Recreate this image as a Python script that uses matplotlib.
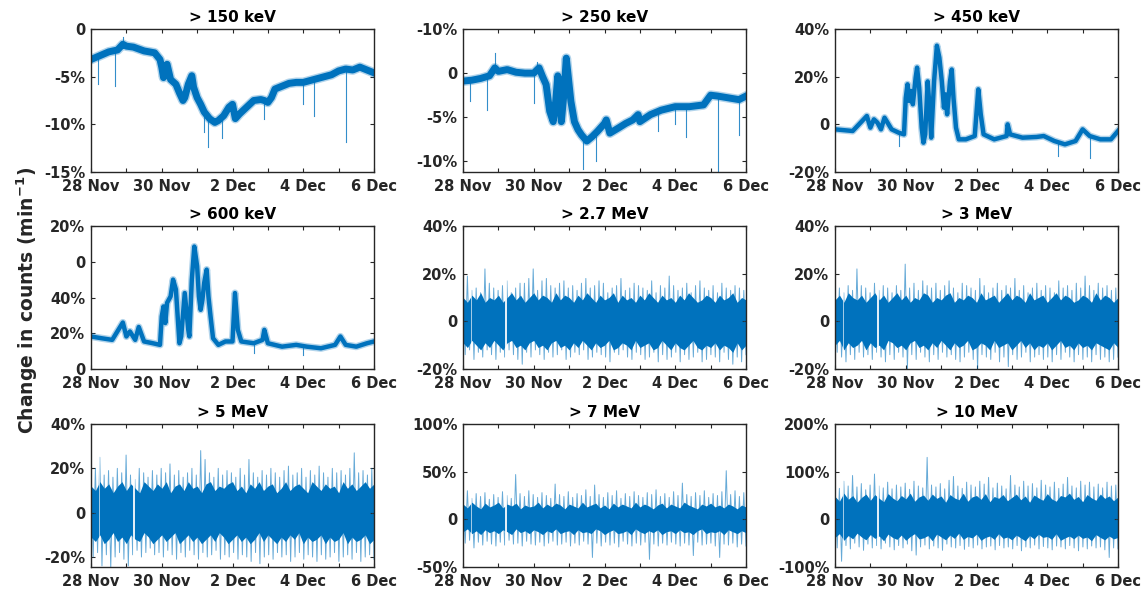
import numpy as np
import matplotlib
matplotlib.use('Agg')
import matplotlib.pyplot as plt

plt.rcParams['font.family'] = ['DejaVu Sans']
plt.rcParams['font.weight'] = 'bold'

BLUE = '#0072BD'
DARK = '#262626'

# time is in days after 28 Nov 00:00
day_ticks = [0, 1, 2, 3, 4, 5, 6, 7, 8]
day_labels = ['28 Nov', '', '30 Nov', '', '2 Dec', '', '4 Dec', '', '6 Dec']

# ---- smooth-ish channels (in %) ----
t150 = [0, 0.25, 0.5, 0.75, 0.9, 1.0, 1.2, 1.5, 1.8, 1.95, 2.0, 2.05, 2.1, 2.15, 2.25,
        2.4, 2.5, 2.6, 2.65, 2.75, 2.85, 2.9, 3.0, 3.1, 3.2, 3.35, 3.5, 3.6, 3.75, 3.9,
        4.0, 4.08, 4.2, 4.4, 4.6, 4.8, 4.9, 5.0, 5.1, 5.2, 5.4, 5.6, 5.8, 6.0, 6.2,
        6.4, 6.6, 6.8, 7.0, 7.2, 7.4, 7.6, 7.8, 8.0]
y150 = [-3.2, -2.8, -2.4, -2.2, -1.6, -1.8, -1.9, -2.3, -2.5, -3.2, -4.0, -5.1, -4.0, -3.7, -5.3,
        -5.8, -6.7, -7.5, -7.2, -5.8, -4.9, -6.1, -7.2, -7.9, -8.7, -9.4, -9.8, -9.6, -9.1, -8.2,
        -7.9, -9.4, -8.9, -8.2, -7.5, -7.4, -7.5, -7.7, -7.2, -6.3, -6.0, -5.7, -5.6, -5.6, -5.4,
        -5.2, -5.0, -4.8, -4.4, -4.2, -4.3, -4.0, -4.3, -4.6]
spk150 = [(0.2, -3.0, -5.8), (0.68, -2.3, -6.0), (0.9, -1.8, -0.8), (3.2, -8.7, -10.8),
          (3.3, -9.2, -12.4), (3.7, -9.2, -11.4), (4.9, -7.5, -9.4), (6.0, -5.6, -7.9),
          (6.3, -5.3, -9.1), (7.2, -4.2, -11.9)]

t250 = [0, 0.25, 0.5, 0.75, 0.9, 1.0, 1.25, 1.5, 1.75, 2.0, 2.15, 2.25, 2.35, 2.45, 2.55,
        2.62, 2.68, 2.78, 2.85, 2.92, 3.05, 3.15, 3.25, 3.35, 3.5, 3.65, 3.8, 4.0, 4.05, 4.15,
        4.4, 4.6, 4.8, 4.95, 5.0, 5.3, 5.6, 6.0, 6.4, 6.8, 7.0, 7.2, 7.5, 7.8, 8.0]
y250 = [-0.9, -0.8, -0.6, -0.3, 0.6, 0.2, 0.4, 0.1, 0.0, 0.0, 0.6, -0.4, -1.3, -4.3, -5.5,
        -3.2, -0.3, -5.5, -2.5, 1.7, -3.2, -5.5, -6.4, -7.0, -7.7, -7.2, -6.6, -5.7, -5.3, -6.8,
        -6.2, -5.7, -5.3, -4.7, -5.5, -4.7, -4.2, -3.8, -3.8, -3.6, -2.5, -2.6, -2.8, -3.0, -2.6]
spk250 = [(0.2, -0.8, -3.2), (0.68, -0.4, -4.2), (0.9, 0.4, 2.3), (2.0, 0.0, -3.4),
          (2.1, 0.3, 1.3), (3.4, -7.2, -10.9), (3.75, -7.0, -10.0), (5.5, -4.3, -6.6),
          (6.0, -3.8, -5.8), (6.3, -3.8, -7.2), (7.2, -2.6, -11.3), (7.8, -3.0, -7.0)]

t450 = [0, 0.5, 0.9, 1.0, 1.1, 1.2, 1.3, 1.4, 1.6, 1.8, 1.95, 2.0, 2.05, 2.1, 2.15,
        2.2, 2.28, 2.32, 2.38, 2.45, 2.5, 2.55, 2.62, 2.68, 2.72, 2.8, 2.88, 2.95, 3.02, 3.08,
        3.12, 3.17, 3.25, 3.3, 3.35, 3.42, 3.5, 3.7, 3.95, 4.05, 4.12, 4.2, 4.5, 4.85, 4.88,
        4.95, 5.3, 5.7, 5.9, 6.2, 6.5, 6.8, 7.0, 7.2, 7.5, 7.8, 8.0]
y450 = [-2.1, -2.8, 3.5, -1.4, 2.1, 0.7, -2.1, 2.8, -2.1, -3.5, -4.2, 11.0, 16.8, 9.8, 14.0,
        8.4, 19.6, 23.8, 15.4, -1.4, -7.7, -4.2, 18.0, 5.6, -5.6, 18.0, 33.0, 28.0, 18.0, 7.0,
        12.6, 4.2, 18.0, 23.0, 11.0, -1.4, -6.3, -6.3, -4.9, 14.7, 4.2, -4.2, -6.3, -4.9, 0.0,
        -4.2, -5.6, -5.3, -4.9, -7.0, -8.4, -7.0, -2.1, -4.9, -6.3, -6.3, -2.8]
spk450 = [(1.8, -3.5, -9.0), (6.3, -7.5, -13.3), (7.2, -5.0, -14.0)]

t600 = [0, 0.3, 0.6, 0.9, 1.0, 1.1, 1.25, 1.35, 1.5, 1.75, 1.95, 2.0, 2.05, 2.1, 2.15,
        2.25, 2.32, 2.4, 2.45, 2.5, 2.55, 2.65, 2.75, 2.78, 2.85, 2.92, 3.0, 3.05, 3.1, 3.15,
        3.2, 3.27, 3.32, 3.38, 3.45, 3.6, 3.8, 4.0, 4.07, 4.15, 4.25, 4.6, 4.85, 4.9, 5.0,
        5.4, 5.8, 6.1, 6.5, 6.9, 7.05, 7.2, 7.5, 7.8, 8.0]
y600 = [18.2, 17.2, 16.3, 26.0, 18.2, 21.0, 16.3, 23.5, 15.4, 14.4, 13.5, 29.4, 35.0, 25.7, 37.0,
        40.6, 50.0, 44.5, 29.4, 14.4, 18.2, 42.5, 21.9, 18.2, 50.0, 68.5, 57.5, 40.6, 33.1, 38.8,
        48.2, 55.6, 40.6, 29.4, 17.2, 13.5, 15.4, 15.4, 42.5, 21.9, 15.4, 14.4, 16.3, 21.9, 14.4,
        12.5, 13.5, 12.5, 11.6, 13.5, 18.2, 13.5, 12.5, 14.4, 15.4]
spk600 = [(4.6, 14.0, 9.0), (6.0, 12.5, 8.0)]

# ---- noisy channels: spike extremes and dense-core edges per 3-hour bin ----
hi27 = [15, 19, 13, 14, 12, 22, 16, 14,
        13, 15, 17, 12, 14, 16, 16, 18,
        22, 13, 17, 18, 15, 14, 16, 17,
        14, 15, 13, 16, 18, 14, 15, 17,
        16, 12, 14, 15, 18, 13, 14, 16,
        15, 14, 13, 17, 12, 15, 14, 19,
        15, 13, 14, 16, 12, 15, 17, 14,
        13, 15, 12, 16, 14, 13, 15, 14,
        13]
lo27 = [-14, -12, -16, -13, -15, -12, -14, -16,
        -13, -15, -12, -14, -16, -18, -13, -15,
        -12, -14, -16, -13, -15, -14, -12, -16,
        -15, -13, -14, -12, -16, -15, -13, -14,
        -15, -17, -13, -14, -12, -15, -16, -13,
        -14, -16, -15, -13, -17, -14, -16, -15,
        -13, -17, -14, -16, -15, -13, -17, -16,
        -14, -15, -17, -13, -16, -18, -15, -17,
        -14]
c27hi = [10, 8, 11, 9, 12, 8, 10, 9,
         11, 8, 10, 12, 9, 11, 8, 10,
         12, 9, 11, 10, 8, 12, 9, 11,
         10, 8, 11, 9, 12, 10, 8, 11,
         9, 10, 12, 8, 11, 9, 10, 8,
         11, 9, 12, 10, 8, 11, 9, 10,
         8, 11, 9, 12, 10, 8, 9, 11,
         10, 8, 11, 9, 10, 12, 8, 10,
         9]
c27lo = [-9, -11, -8, -10, -12, -9, -11, -8,
         -10, -12, -9, -8, -11, -10, -12, -9,
         -8, -11, -10, -12, -9, -8, -11, -10,
         -12, -9, -11, -8, -10, -12, -9, -11,
         -10, -8, -12, -11, -9, -10, -12, -8,
         -11, -10, -9, -12, -11, -8, -10, -12,
         -9, -11, -12, -10, -8, -11, -12, -10,
         -11, -9, -12, -10, -11, -13, -9, -12,
         -10]

hi3 = [17, 14, 12, 15, 13, 22, 15, 14,
       12, 16, 13, 15, 14, 12, 15, 13,
       24, 14, 16, 13, 17, 15, 14, 16,
       13, 15, 17, 14, 12, 16, 15, 14,
       13, 18, 15, 12, 14, 16, 13, 15,
       14, 18, 13, 15, 12, 14, 16, 13,
       15, 14, 12, 17, 14, 15, 13, 16,
       14, 19, 15, 13, 16, 14, 15, 13,
       14]
lo3 = [-13, -15, -17, -14, -16, -13, -15, -14,
       -16, -13, -15, -17, -14, -16, -13, -15,
       -20, -14, -16, -13, -15, -17, -14, -16,
       -13, -15, -14, -16, -17, -15, -13, -16,
       -20, -14, -15, -16, -13, -17, -15, -19,
       -14, -16, -15, -13, -17, -15, -14, -16,
       -15, -17, -14, -16, -13, -15, -17, -14,
       -16, -15, -17, -14, -16, -15, -17, -16,
       -15]
c3hi = [9, 11, 8, 12, 10, 9, 11, 8,
        10, 12, 9, 11, 8, 10, 12, 9,
        11, 8, 10, 9, 12, 11, 8, 10,
        9, 11, 12, 8, 10, 9, 11, 10,
        8, 12, 9, 10, 11, 8, 10, 12,
        9, 11, 10, 8, 12, 9, 10, 11,
        8, 10, 12, 9, 11, 10, 8, 9,
        11, 10, 8, 12, 9, 11, 10, 8,
        10]
c3lo = [-10, -8, -12, -9, -11, -10, -8, -12,
        -9, -11, -10, -12, -8, -9, -11, -10,
        -12, -9, -8, -11, -10, -12, -9, -11,
        -8, -10, -12, -9, -11, -10, -8, -12,
        -11, -9, -10, -12, -8, -11, -10, -9,
        -12, -10, -8, -11, -9, -12, -10, -11,
        -9, -12, -10, -8, -11, -10, -12, -9,
        -11, -10, -12, -9, -10, -11, -12, -9,
        -11]

hi5 = [18, 20, 25, 17, 19, 16, 20, 18,
       26, 17, 15, 20, 18, 16, 19, 17,
       20, 18, 22, 17, 19, 16, 18, 20,
       17, 28, 24, 18, 16, 20, 17, 19,
       18, 16, 20, 17, 24, 18, 16, 19,
       17, 20, 18, 16, 19, 21, 17, 18,
       20, 16, 19, 17, 21, 18, 16, 20,
       18, 19, 17, 20, 27, 18, 19, 17,
       20]
lo5 = [-20, -18, -24, -19, -25, -20, -18, -21,
       -24, -19, -17, -20, -18, -16, -19, -18,
       -20, -17, -19, -21, -18, -20, -17, -19,
       -21, -18, -20, -19, -17, -21, -19, -20,
       -18, -21, -19, -20, -22, -18, -23, -20,
       -19, -21, -18, -20, -19, -22, -20, -18,
       -21, -19, -20, -22, -19, -21, -20, -18,
       -22, -20, -19, -21, -18, -22, -20, -19,
       -21]
c5hi = [12, 10, 14, 11, 13, 9, 12, 14,
        10, 13, 11, 9, 14, 12, 10, 13,
        11, 14, 9, 12, 13, 10, 14, 11,
        12, 9, 13, 14, 10, 12, 11, 13,
        14, 10, 12, 9, 13, 11, 14, 10,
        12, 13, 9, 11, 14, 10, 12, 13,
        11, 9, 14, 12, 10, 13, 11, 12,
        9, 14, 11, 13, 10, 12, 14, 11,
        13]
c5lo = [-11, -13, -10, -14, -12, -9, -13, -11,
        -14, -10, -12, -13, -9, -11, -14, -12,
        -10, -13, -11, -9, -14, -12, -10, -13,
        -11, -14, -12, -10, -13, -9, -11, -14,
        -12, -10, -13, -11, -14, -12, -9, -13,
        -10, -12, -14, -11, -13, -10, -12, -9,
        -14, -11, -13, -12, -10, -14, -11, -13,
        -12, -9, -14, -11, -13, -12, -10, -14,
        -12]

hi7 = [25, 30, 22, 27, 24, 28, 21, 26,
       23, 29, 25, 22, 47, 27, 24, 30,
       26, 23, 28, 25, 22, 37, 26, 24,
       29, 23, 27, 25, 31, 24, 36, 26,
       23, 28, 25, 30, 22, 27, 24, 29,
       25, 23, 28, 26, 31, 24, 27, 23,
       29, 25, 38, 26, 24, 28, 25, 30,
       23, 27, 25, 29, 51, 26, 30, 24,
       28]
lo7 = [-25, -22, -30, -24, -27, -23, -26, -28,
       -24, -27, -22, -26, -25, -28, -23, -26,
       -27, -24, -28, -25, -23, -27, -26, -24,
       -28, -25, -27, -23, -26, -40, -25, -28,
       -24, -27, -25, -29, -23, -26, -28, -25,
       -27, -24, -42, -26, -28, -25, -27, -24,
       -26, -28, -25, -27, -38, -24, -27, -26,
       -25, -28, -40, -26, -27, -25, -29, -26,
       -28]
c7hi = [16, 12, 18, 14, 11, 17, 13, 15,
        18, 12, 16, 14, 17, 11, 15, 13,
        14, 18, 12, 16, 13, 17, 15, 11,
        16, 14, 12, 18, 13, 15, 17, 12,
        15, 11, 17, 13, 16, 14, 12, 18,
        13, 16, 14, 11, 15, 17, 12, 16,
        14, 12, 18, 15, 13, 11, 16, 14,
        17, 13, 15, 12, 16, 14, 11, 15,
        13]
c7lo = [-13, -10, -15, -12, -16, -11, -14, -12,
        -15, -11, -13, -16, -10, -14, -12, -15,
        -11, -13, -16, -12, -14, -10, -15, -13,
        -12, -16, -11, -14, -13, -15, -10, -12,
        -16, -13, -11, -15, -14, -12, -16, -10,
        -13, -15, -12, -14, -11, -16, -13, -12,
        -15, -11, -14, -13, -16, -12, -10, -15,
        -13, -14, -12, -16, -11, -13, -15, -12,
        -14]

hi10 = [78, 65, 80, 70, 92, 68, 75, 62,
        72, 95, 70, 66, 78, 64, 72, 68,
        76, 63, 80, 70, 66, 130, 72, 68,
        75, 64, 82, 90, 70, 65, 78, 72,
        68, 80, 74, 88, 66, 76, 70, 64,
        92, 72, 68, 80, 70, 75, 66, 82,
        72, 68, 78, 65, 74, 88, 70, 66,
        80, 72, 78, 68, 74, 66, 78, 70,
        72]
lo10 = [-60, -88, -55, -62, -50, -58, -65, -52,
        -60, -55, -62, -50, -58, -64, -55, -60,
        -52, -66, -75, -58, -54, -62, -56, -60,
        -65, -52, -58, -60, -55, -63, -57, -60,
        -54, -62, -58, -56, -64, -55, -60, -58,
        -62, -55, -66, -58, -60, -54, -62, -57,
        -60, -64, -56, -58, -62, -55, -60, -66,
        -58, -62, -56, -60, -58, -64, -80, -60,
        -62]
c10hi = [48, 38, 55, 42, 50, 36, 46, 53,
         40, 52, 44, 37, 54, 45, 39, 50,
         43, 55, 38, 47, 51, 40, 53, 44,
         49, 36, 52, 45, 41, 55, 38, 47,
         50, 42, 54, 37, 48, 44, 52, 39,
         46, 53, 41, 49, 36, 51, 45, 40,
         54, 43, 38, 50, 47, 55, 42, 48,
         37, 52, 45, 40, 53, 44, 49, 39,
         47]
c10lo = [-38, -30, -44, -34, -41, -29, -37, -43,
         -32, -40, -35, -45, -31, -38, -42, -33,
         -44, -36, -30, -41, -39, -34, -45, -31,
         -37, -43, -33, -40, -29, -42, -36, -39,
         -31, -44, -38, -35, -42, -30, -40, -37,
         -43, -33, -39, -45, -34, -41, -31, -38,
         -36, -42, -30, -44, -39, -35, -41, -33,
         -40, -37, -45, -32, -38, -43, -35, -41,
         -38]

gaps = [(0.22, 0.5), (1.21, 1.4)]  # data gaps: day, drawn width

titles = ['> 150 keV', '> 250 keV', '> 450 keV', '> 600 keV', '> 2.7 MeV',
          '> 3 MeV', '> 5 MeV', '> 7 MeV', '> 10 MeV']
ylims = [(-15, 0), (-11.2, 5), (-20, 40), (0, 80), (-20, 40),
         (-20, 40), (-24.5, 40), (-50, 100), (-100, 200)]
yticks = [[-15, -10, -5, 0], [-10, -5, 0, 5], [-20, 0, 20, 40], [0, 20, 40, 60, 80],
          [-20, 0, 20, 40], [-20, 0, 20, 40], [-20, 0, 20, 40], [-50, 0, 50, 100],
          [-100, 0, 100, 200]]
ylabels = [['-15%', '-10%', '-5%', '0'], ['-10%', '-5%', '0', '-10%'],
           ['-20%', '0', '20%', '40%'], ['0', '20%', '40%', '0', '20%'],
           ['-20%', '0', '20%', '40%'], ['-20%', '0', '20%', '40%'],
           ['-20%', '0', '20%', '40%'], ['-50%', '0', '50%', '100%'],
           ['-100%', '0', '100%', '200%']]

trend = [(t150, y150, spk150, 5.0), (t250, y250, spk250, 5.0),
         (t450, y450, spk450, 3.2), (t600, y600, spk600, 3.2)]
noisy = [(hi27, lo27, c27hi, c27lo), (hi3, lo3, c3hi, c3lo), (hi5, lo5, c5hi, c5lo),
         (hi7, lo7, c7hi, c7lo), (hi10, lo10, c10hi, c10lo)]


def plot_trend(ax, t, y, spikes, lw):
    ax.plot(t, y, color=BLUE, lw=lw + 2, alpha=0.3, solid_joinstyle='round')
    ax.plot(t, y, color=BLUE, lw=lw, solid_joinstyle='round')
    for ts, base, tip in spikes:
        ax.plot([ts, ts], [base, tip], color=BLUE, lw=0.8, alpha=0.8)


def plot_noisy(ax, hi, lo, chi, clo):
    n = len(hi)
    # spikes: zig-zag through the per-bin extremes
    xs = np.linspace(0, 8, 2 * n)
    ys = np.empty(2 * n)
    ys[0::2] = hi
    ys[1::2] = lo
    ax.plot(xs, ys, color=BLUE, lw=0.7, alpha=0.6)
    # dense core
    xc = np.linspace(0, 8, len(chi))
    ax.fill_between(xc, clo, chi, color=BLUE, lw=0)
    for g, w in gaps:
        ax.axvline(g, color='white', lw=w, alpha=0.9)


fig = plt.figure(figsize=(11.47, 5.93), dpi=100)

lefts = [91, 463, 835]
bottoms = [172, 369, 567]
for i in range(9):
    r, c = divmod(i, 3)
    ax = fig.add_axes([lefts[c] / 1147, 1 - bottoms[r] / 593, 283 / 1147, 143 / 593])
    if i < 4:
        plot_trend(ax, *trend[i])
    else:
        plot_noisy(ax, *noisy[i - 4])
    ax.set_xlim(0, 8)
    ax.set_ylim(*ylims[i])
    ax.set_xticks(day_ticks)
    ax.set_xticklabels(day_labels)
    ax.set_yticks(yticks[i])
    ax.set_yticklabels(ylabels[i])
    ax.tick_params(direction='in', top=True, right=True, length=3, width=0.8,
                   colors=DARK, labelsize=10.5)
    ax.tick_params(axis='x', pad=5)
    ax.tick_params(axis='y', pad=4)
    for lab in ax.get_xticklabels() + ax.get_yticklabels():
        lab.set_fontweight('bold')
    for s in ax.spines.values():
        s.set_color(DARK)
        s.set_linewidth(1.0)
    ax.set_title(titles[i], fontsize=11, fontweight='bold', color='black', pad=5)

fig.text(0.024, 0.494, 'Change in counts (min$^{\\mathbf{-1}}$)', rotation=90,
         ha='center', va='center', fontsize=13.5, fontweight='bold', color=DARK)

fig.savefig('out.png', dpi=100)
